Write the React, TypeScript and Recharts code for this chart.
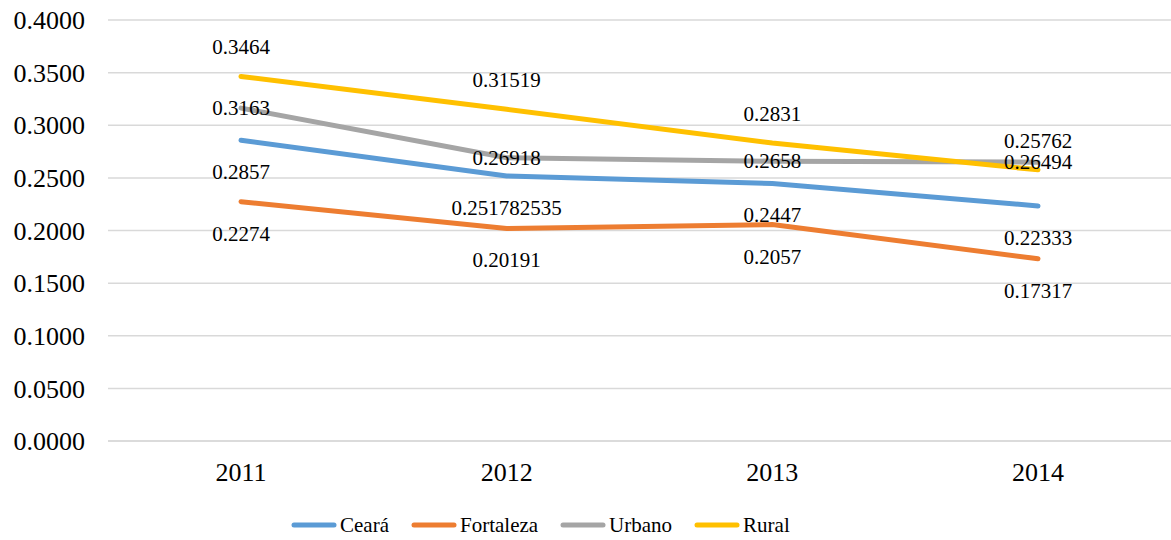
import { LineChart, Line, XAxis, YAxis, CartesianGrid, Legend, LabelList } from "recharts";

const YEARS = ["2011", "2012", "2013", "2014"];
const CEARA = [0.2857, 0.251782535, 0.2447, 0.22333];
const FORTALEZA = [0.2274, 0.20191, 0.2057, 0.17317];
const URBANO = [0.3163, 0.26918, 0.2658, 0.26494];
const RURAL = [0.3464, 0.31519, 0.2831, 0.25762];
const Y_TICKS = [0, 0.05, 0.1, 0.15, 0.2, 0.25, 0.3, 0.35, 0.4];

const data = YEARS.map((year, i) => ({
  year,
  ceara: CEARA[i],
  fortaleza: FORTALEZA[i],
  urbano: URBANO[i],
  rural: RURAL[i],
}));

const SERIES = [
  { key: "ceara", name: "Ceará", color: "#5B9BD5", dy: 32 },
  { key: "fortaleza", name: "Fortaleza", color: "#ED7D31", dy: 32 },
  { key: "urbano", name: "Urbano", color: "#A5A5A5", dy: 0 },
  { key: "rural", name: "Rural", color: "#FFC000", dy: -29 },
];

const FONT = "'Liberation Serif', 'Times New Roman', serif";

const makeLabel = (dy: number) => (props: any) => {
  const { x, y, value } = props;
  return (
    <text
      x={x}
      y={y + dy}
      textAnchor="middle"
      dominantBaseline="central"
      fontSize={21}
      fontFamily={FONT}
      fill="#000"
    >
      {String(value)}
    </text>
  );
};

function ChartLegend() {
  return (
    <div
      style={{
        height: 30,
        display: "flex",
        alignItems: "center",
        paddingLeft: 291,
        fontFamily: FONT,
        fontSize: 21,
        color: "#000",
      }}
    >
      {SERIES.map((s) => (
        <div key={s.key} style={{ display: "flex", alignItems: "center", marginRight: 22 }}>
          <svg width={46} height={8} style={{ marginRight: 3 }}>
            <line x1={3} y1={4} x2={43} y2={4} stroke={s.color} strokeWidth={5} strokeLinecap="round" />
          </svg>
          <span>{s.name}</span>
        </div>
      ))}
    </div>
  );
}

export default function App() {
  return (
    <div style={{ position: "absolute", left: 0, top: 0, background: "#fff" }}>
      <LineChart width={1171} height={540} data={data} margin={{ top: 20, right: 0, left: 0, bottom: 0 }}>
        <CartesianGrid vertical={false} stroke="#d9d9d9" strokeWidth={1.5} />
        <XAxis
          dataKey="year"
          height={69}
          padding={{ left: 133, right: 133 }}
          tickLine={false}
          axisLine={{ stroke: "#d9d9d9", strokeWidth: 1.5 }}
          tickSize={0}
          tickMargin={22}
          tick={{ fontSize: 26, fontFamily: FONT, fill: "#000" }}
        />
        <YAxis
          width={108}
          domain={[0, 0.4]}
          ticks={Y_TICKS}
          tickFormatter={(v: number) => v.toFixed(4)}
          axisLine={false}
          tickLine={false}
          tickSize={0}
          tickMargin={23}
          tick={{ fontSize: 26, fontFamily: FONT, fill: "#000" }}
        />
        <Legend verticalAlign="bottom" content={() => <ChartLegend />} wrapperStyle={{ left: 0, width: 1171 }} />
        {SERIES.map((s) => (
          <Line
            key={s.key}
            dataKey={s.key}
            name={s.name}
            type="linear"
            stroke={s.color}
            strokeWidth={5}
            strokeLinecap="round"
            dot={false}
            activeDot={false}
            isAnimationActive={false}
          >
            <LabelList dataKey={s.key} content={makeLabel(s.dy)} />
          </Line>
        ))}
      </LineChart>
    </div>
  );
}
